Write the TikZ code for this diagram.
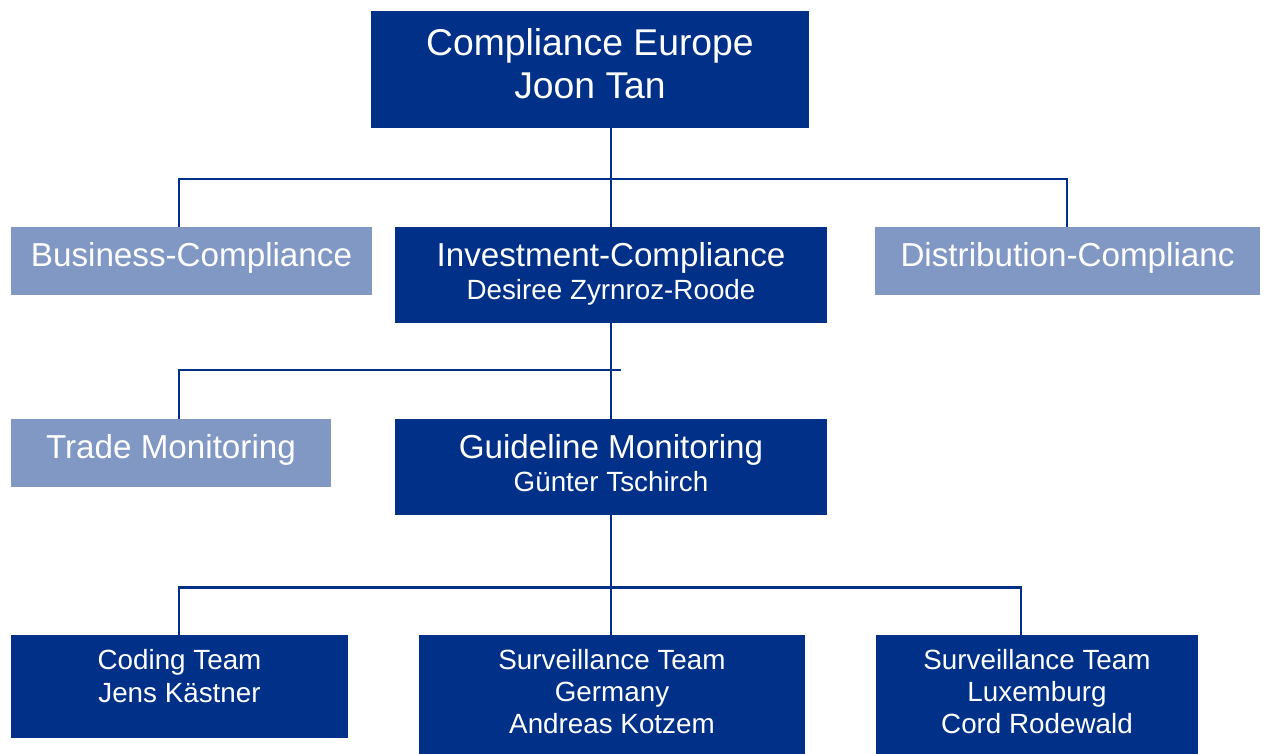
\documentclass[tikz,border=0pt]{standalone}
\usepackage{fontspec}
\setmainfont{Liberation Sans}
\definecolor{dkblue}{RGB}{0,48,135}
\definecolor{ltblue}{RGB}{128,152,195}
\newcommand{\boxtxt}[4]{\parbox[c][#2][t]{#1}{\centering\rule{0pt}{#3}#4}}
\begin{document}
\begin{tikzpicture}[x=1pt,y=-1pt,
  orgbox/.style={inner sep=0pt, outer sep=0pt, anchor=north west, text=white},
  dark/.style={orgbox, fill=dkblue},
  light/.style={orgbox, fill=ltblue},
  conn/.style={draw=dkblue, line width=2.2pt}]
\useasboundingbox (0,0) rectangle (1267,754);
\fill[white] (0,0) rectangle (1267,754);
% level 0
\node[dark] (top) at (371,11) {\boxtxt{438pt}{117pt}{45pt}{\fontsize{37.3}{43}\selectfont Compliance Europe\\Joon Tan}};
% level 1
\node[light] (biz) at (11,227) {\boxtxt{361pt}{68pt}{39pt}{\fontsize{33.2}{40}\selectfont Business-Compliance}};
\node[dark] (inv) at (395,227) {\boxtxt{432pt}{96pt}{40pt}{\fontsize{33.2}{40}\selectfont Investment-Compliance\\\fontsize{27.8}{33}\selectfont Desiree Zyrnroz-Roode}};
\node[light] (dist) at (875,227) {\boxtxt{385pt}{68pt}{39pt}{\fontsize{33.2}{40}\selectfont Distribution-Complianc}};
% level 2
\node[light] (trade) at (11,419) {\boxtxt{320pt}{68pt}{39pt}{\fontsize{33.2}{40}\selectfont Trade Monitoring}};
\node[dark] (guide) at (395,419) {\boxtxt{432pt}{96pt}{39.5pt}{\fontsize{33.2}{40}\selectfont Guideline Monitoring\\\fontsize{27.8}{33}\selectfont Günter Tschirch}};
% level 3
\node[dark] (coding) at (11,635) {\boxtxt{337pt}{103pt}{34.5pt}{\fontsize{27.8}{32.5}\selectfont Coding Team\\Jens Kästner}};
\node[dark] (germ) at (419,635) {\boxtxt{386pt}{121pt}{34.5pt}{\fontsize{27.8}{32}\selectfont Surveillance Team\\Germany\\Andreas Kotzem}};
\node[dark] (lux) at (876,635) {\boxtxt{322pt}{121pt}{34.5pt}{\fontsize{27.8}{32}\selectfont Surveillance Team\\Luxemburg\\Cord Rodewald}};
% bus coordinates
\coordinate (b1L) at (179,179);
\coordinate (b1R) at (1067,179);
\coordinate (b2L) at (179,370);
\coordinate (b2R) at (621,370);
\coordinate (b3L) at (179,587.5);
\coordinate (b3R) at (1021,587.5);
% connectors level 0 -> 1
\draw[conn] (top.south -| inv.north) -- (inv.north);
\draw[conn] (biz.north -| b1L) -- (b1L) -- (b1R) -- (b1R |- dist.north);
% level 1 -> 2
\draw[conn] (inv.south) -- (guide.north);
\draw[conn] (trade.north -| b2L) -- (b2L) -- (b2R);
% level 2 -> 3
\draw[conn] (guide.south) -- (guide.south |- germ.north);
\draw[conn] (coding.north -| b3L) -- (b3L) -- (b3R) -- (b3R |- lux.north);
\end{tikzpicture}
\end{document}
